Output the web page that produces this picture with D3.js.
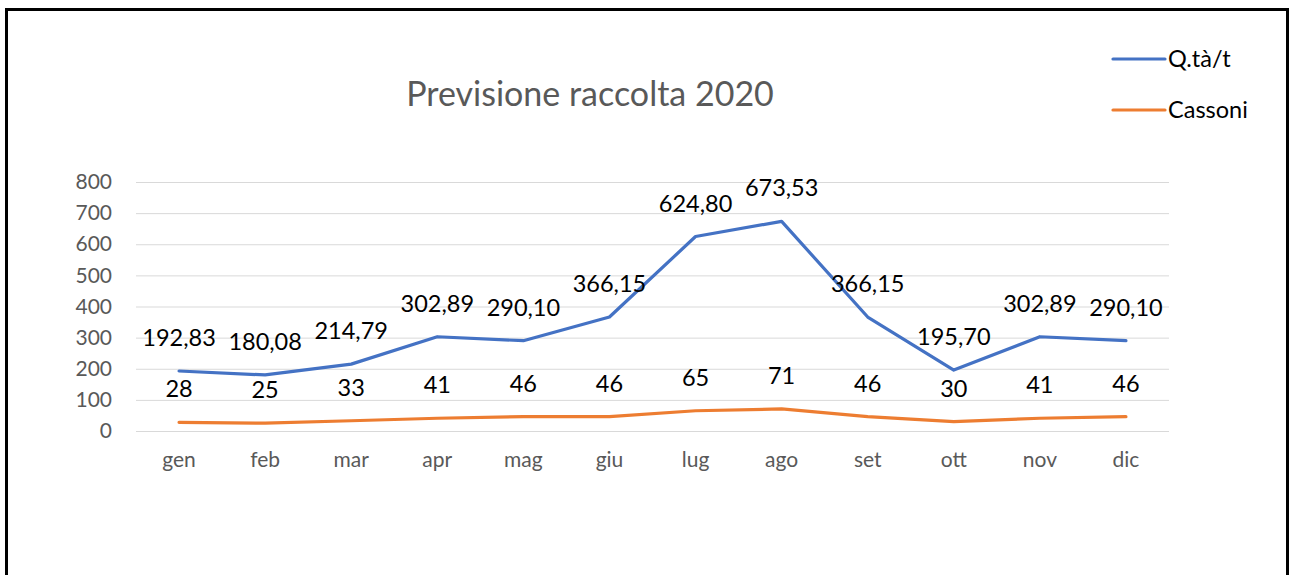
<!DOCTYPE html>
<html lang="it">
<head>
<meta charset="UTF-8">
<title>Previsione raccolta 2020</title>
<style>
  body { margin: 0; background: #fff; }
  svg { display: block; font-family: Lato, "Open Sans", sans-serif; }
</style>
</head>
<body>
<svg width="1291" height="575"></svg>
<script src="https://cdn.jsdelivr.net/npm/d3@7"></script>
<script>
// dati
var mesi = ["gen","feb","mar","apr","mag","giu","lug","ago","set","ott","nov","dic"];
var quantita = [192.83,180.08,214.79,302.89,290.10,366.15,624.80,673.53,366.15,195.70,302.89,290.10];
var cassoni = [28,25,33,41,46,46,65,71,46,30,41,46];
var yTicks = [0,100,200,300,400,500,600,700,800];
var nomiSerie = ["Q.tà/t","Cassoni"];
var colori = ["#4472C4","#ED7D31"];

var svg = d3.select("svg");

// cornice
svg.append("rect")
  .attr("x",6.5).attr("y",9.5)
  .attr("width",1281).attr("height",620)
  .attr("fill","none").attr("stroke","#000").attr("stroke-width",3);

var marge = {left:136, right:1169, top:182, bottom:431};

var x = d3.scaleBand().domain(mesi).range([marge.left, marge.right]);
var y = d3.scaleLinear().domain([0,800]).range([marge.bottom, marge.top]);

// griglia
svg.append("g").selectAll("line")
  .data(yTicks).enter().append("line")
  .attr("x1",marge.left).attr("x2",marge.right)
  .attr("y1",function(d){ return y(d)+0.5; })
  .attr("y2",function(d){ return y(d)+0.5; })
  .attr("stroke","#d9d9d9").attr("stroke-width",1);

// asse y
var yAxis = d3.axisLeft(y).tickValues(yTicks).tickSize(0).tickPadding(0);
var gy = svg.append("g").attr("transform","translate(112,0)").call(yAxis);
gy.select(".domain").remove();
gy.selectAll("text").attr("fill","#595959").style("font-size","21px")
  .style("font-family","Lato, 'Open Sans', sans-serif");

// asse x
var xAxis = d3.axisBottom(x).tickSize(0).tickPadding(0);
var gx = svg.append("g").attr("transform","translate(0,452)").call(xAxis);
gx.select(".domain").remove();
gx.selectAll("text").attr("fill","#595959").style("font-size","21px")
  .style("font-family","Lato, 'Open Sans', sans-serif");

// titolo
svg.append("text")
  .attr("x",590).attr("y",106)
  .attr("text-anchor","middle")
  .attr("fill","#595959")
  .style("font-size","34px")
  .text("Previsione raccolta 2020");

var linea = d3.line()
  .x(function(d,i){ return x(mesi[i]) + x.bandwidth()/2; })
  .y(function(d){ return y(d); });

var serie = [quantita, cassoni];
var formati = [
  function(d){ return d.toFixed(2).replace(".",","); },
  function(d){ return String(d); }
];

serie.forEach(function(dati,k){
  svg.append("path")
    .datum(dati)
    .attr("d",linea)
    .attr("fill","none")
    .attr("stroke",colori[k])
    .attr("stroke-width",3.2)
    .attr("stroke-linejoin","round")
    .attr("stroke-linecap","round");

  svg.append("g").selectAll("text")
    .data(dati).enter().append("text")
    .attr("x",function(d,i){ return x(mesi[i]) + x.bandwidth()/2; })
    .attr("y",function(d){ return y(d) - 25; })
    .attr("text-anchor","middle")
    .attr("fill","#000")
    .style("font-size","23.5px")
    .text(formati[k]);
});

// legenda
var leg = svg.append("g");
nomiSerie.forEach(function(nome,k){
  var yy = 59 + k*51;
  leg.append("line")
    .attr("x1",1113).attr("x2",1165)
    .attr("y1",yy).attr("y2",yy)
    .attr("stroke",colori[k]).attr("stroke-width",3.2)
    .attr("stroke-linecap","round");
  leg.append("text")
    .attr("x",1168).attr("y",yy+8)
    .attr("fill","#000")
    .style("font-size","23.5px")
    .text(nome);
});
</script>
</body>
</html>
